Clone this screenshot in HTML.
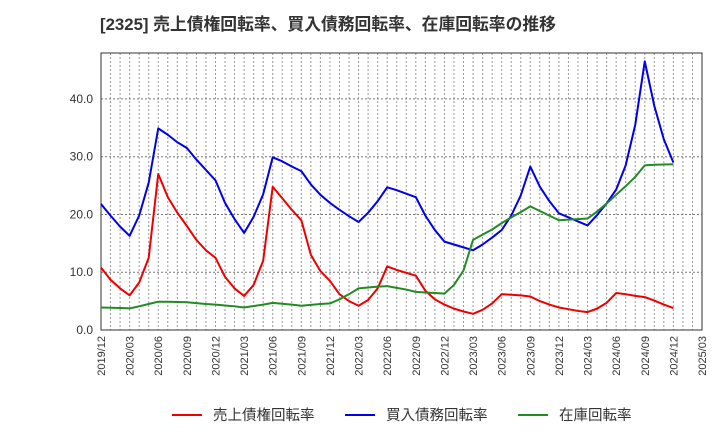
<!DOCTYPE html>
<html><head><meta charset="utf-8"><style>
body{margin:0;background:#fff;font-family:"Liberation Sans","Noto Sans CJK JP",sans-serif;}
</style></head><body>
<svg id="c" width="720" height="440" xmlns="http://www.w3.org/2000/svg" font-family="Liberation Sans, Noto Sans CJK JP, sans-serif">
<text x="100" y="30" font-size="16.8" font-weight="bold" fill="#333">[2325]  売上債権回転率、買入債務回転率、在庫回転率の推移</text>
<g id="grid"></g><g id="axes"></g><g id="lines"></g><g id="legend"></g>
</svg>
<script>
const xLabels=["2019/12","2020/03","2020/06","2020/09","2020/12","2021/03","2021/06","2021/09","2021/12","2022/03","2022/06","2022/09","2022/12","2023/03","2023/06","2023/09","2023/12","2024/03","2024/06","2024/09","2024/12","2025/03"];
const yTicks=[0,10,20,30,40];
const yTickLabels=["0.0","10.0","20.0","30.0","40.0"];
const receivables=[10.8,8.7,7.2,6.0,8.2,12.5,27.0,23.0,20.3,18.0,15.6,13.8,12.5,9.2,7.2,5.9,7.8,12.0,24.8,22.8,20.8,19.0,13.0,10.2,8.5,6.2,5.0,4.2,5.2,7.2,11.0,10.4,9.9,9.4,6.8,5.3,4.4,3.7,3.2,2.8,3.5,4.6,6.2,6.1,6.0,5.8,5.0,4.4,3.9,3.6,3.3,3.1,3.7,4.7,6.4,6.2,5.9,5.7,5.1,4.4,3.8];
const payables=[21.8,19.8,17.9,16.3,19.8,25.5,34.9,33.8,32.5,31.5,29.5,27.7,25.9,22.0,19.2,16.8,19.6,23.5,29.9,29.2,28.3,27.5,25.2,23.4,22.0,20.8,19.7,18.7,20.3,22.3,24.7,24.2,23.6,23.0,19.8,17.3,15.3,14.8,14.3,13.8,14.8,16.0,17.3,19.8,23.3,28.3,24.8,22.3,20.2,19.5,18.8,18.1,19.9,21.9,24.3,28.5,35.5,46.5,38.8,33.0,29.0];
const inventory=[3.9,3.85,3.8,3.75,4.1,4.5,4.9,4.9,4.85,4.8,4.65,4.5,4.4,4.25,4.1,3.9,4.15,4.4,4.7,4.55,4.4,4.2,4.35,4.5,4.6,5.3,6.2,7.2,7.35,7.5,7.6,7.3,7.0,6.6,6.5,6.4,6.3,7.8,10.3,15.6,16.5,17.4,18.5,19.5,20.4,21.4,20.6,19.8,19.0,19.1,19.2,19.3,20.5,21.9,23.4,24.9,26.5,28.5,28.6,28.65,28.7];
const seriesNames=["売上債権回転率","買入債務回転率","在庫回転率"];
const NS="http://www.w3.org/2000/svg";
const L=101,R=702,T=53,B=330,nMonths=63,yMax=47.95;
const xs=i=>L+(R-L)*i/nMonths;
const ys=v=>B-(B-T)*v/yMax;
function mk(tag,attrs,parent){const e=document.createElementNS(NS,tag);for(const k in attrs)e.setAttribute(k,attrs[k]);parent.appendChild(e);return e;}
const grid=document.getElementById('grid'),axes=document.getElementById('axes'),lines=document.getElementById('lines'),legend=document.getElementById('legend');
for(let m=1;m<nMonths;m++){const l=mk('line',{x1:xs(m),x2:xs(m),y1:T,y2:B,stroke:'#999','stroke-dasharray':'2,2','stroke-width':1},grid);

}
yTicks.forEach((v,i)=>{if(v>0){const g=mk('line',{x1:L,x2:R,y1:ys(v),y2:ys(v),stroke:'#777','stroke-dasharray':'2,2','stroke-width':1},grid);

}
const t=mk('text',{x:L-8,y:ys(v)+4,'text-anchor':'end','font-size':12,fill:'#333'},axes);t.textContent=yTickLabels[i];

});
xLabels.forEach((s,i)=>{const x=xs(i*3),y=B+6;const t=mk('text',{x:x+4,y:y,'text-anchor':'end','font-size':11,fill:'#333',transform:`rotate(-90 ${x+4} ${y})`},axes);t.textContent=s;

});
const frame=mk('rect',{x:L,y:T,width:R-L,height:B-T,fill:'none',stroke:'#333','stroke-width':1},axes);


const cols=['#ee0000','#0000ee','#228b22'];
[receivables,payables,inventory].forEach((d,k)=>{const p=mk('polyline',{points:d.map((v,i)=>xs(i)+','+ys(v)).join(' '),fill:'none',stroke:cols[k],'stroke-width':2,'stroke-linejoin':'round'},lines);

});
const lx=[172,345,518];
seriesNames.forEach((n,k)=>{const g=mk('g',{},legend);


mk('line',{x1:lx[k],x2:lx[k]+30,y1:415,y2:415,stroke:cols[k],'stroke-width':2},g);
const t=mk('text',{x:lx[k]+41,y:420,'font-size':14.5,fill:'#333'},g);t.textContent=n;});
</script>
</body></html>
